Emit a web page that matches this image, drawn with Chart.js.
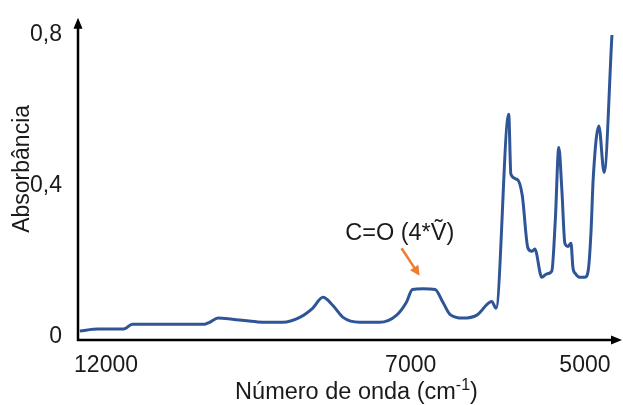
<!DOCTYPE html>
<html>
<head>
<meta charset="utf-8">
<script src="https://cdn.jsdelivr.net/npm/chart.js@4.4.1/dist/chart.umd.min.js"></script>
<style>
  html, body { margin: 0; padding: 0; background: #fff; }
  #wrap { width: 623px; height: 405px; }
</style>
</head>
<body>
<div id="wrap"><canvas id="spectrum"></canvas></div>
<script>
// NIR spectrum (wavenumber in cm-1, absorbance)
const wavenumbers = [12430, 12130, 11740, 11680, 11570, 11150, 10380, 10300, 10160, 9930,
  9510, 9100, 8820, 8610, 8440, 8280, 8110, 7840, 7510, 7230,
  7070, 6980, 6860, 6720, 6630, 6550, 6400, 6240, 6070, 6020,
  5875, 5850, 5780, 5720, 5655, 5610, 5575, 5495, 5440, 5380,
  5340, 5300, 5265, 5230, 5195, 5160, 5138, 5110, 5060, 5000,
  4960, 4930, 4905, 4840, 4780, 4690];
const absorbance = [0.016, 0.021, 0.021, 0.023, 0.034, 0.034, 0.034, 0.039, 0.050, 0.047,
  0.040, 0.039, 0.052, 0.076, 0.105, 0.084, 0.052, 0.039, 0.039, 0.058,
  0.092, 0.126, 0.128, 0.126, 0.092, 0.060, 0.050, 0.058, 0.094, 0.076,
  0.590, 0.431, 0.418, 0.376, 0.236, 0.227, 0.233, 0.158, 0.167, 0.175,
  0.31, 0.502, 0.39, 0.248, 0.240, 0.248, 0.184, 0.168, 0.158, 0.158,
  0.18, 0.28, 0.42, 0.559, 0.436, 0.800];
const xTicks = [12000, 7000, 5000];
const yTicks = [0, 0.4, 0.8];

const xTitle = ["Número de onda (cm", "-1", ")"]; // middle part is a superscript
const yTitle = "Absorbância";

// annotation for the C=O overtone band
const peakLabel = "C=O (4*Ṽ)";
const labelAt = [7180, 0.275];
const arrowTail = [7150, 0.235];
const arrowTip = [6897, 0.162];

const FONT = "'Liberation Sans', Arial, sans-serif";
const TEXT = "#1a1a1a";

// the original axis is not evenly spaced: 7000-5000 is stretched vs 12000-7000
const BREAK = 7000;
const STRETCH = 1.43;
const warp = v => v >= BREAK ? v : BREAK - STRETCH * (BREAK - v);
const unwarp = u => u >= BREAK ? u : BREAK - (BREAK - u) / STRETCH;

class WaveScale extends Chart.LinearScale {
  getPixelForValue(value) {
    const u0 = warp(this.max), u1 = warp(this.min);
    return this.left + (u0 - warp(value)) / (u0 - u1) * this.width;
  }
  getValueForPixel(pixel) {
    const u0 = warp(this.max), u1 = warp(this.min);
    return unwarp(u0 - (pixel - this.left) / this.width * (u0 - u1));
  }
}
WaveScale.id = "wave";
WaveScale.defaults = Chart.LinearScale.defaults;
Chart.register(WaveScale);

const axisArrows = {
  id: "axisArrows",
  afterDraw(chart) {
    const { ctx, chartArea: a } = chart;
    ctx.save();
    ctx.strokeStyle = "#000";
    ctx.fillStyle = "#000";
    ctx.lineWidth = 2.5;
    ctx.beginPath();
    ctx.moveTo(a.left, a.top + 2);
    ctx.lineTo(a.left, a.bottom);
    ctx.lineTo(a.right, a.bottom);
    ctx.stroke();
    // heads
    ctx.beginPath();
    ctx.moveTo(a.left, a.top - 4);
    ctx.lineTo(a.left - 4.5, a.top + 7);
    ctx.lineTo(a.left + 4.5, a.top + 7);
    ctx.closePath();
    ctx.fill();
    ctx.beginPath();
    ctx.moveTo(a.right + 7, a.bottom);
    ctx.lineTo(a.right - 4, a.bottom - 4.5);
    ctx.lineTo(a.right - 4, a.bottom + 4.5);
    ctx.closePath();
    ctx.fill();
    ctx.restore();
  }
};

// axis titles drawn by hand so the cm-1 exponent can be a real superscript
const axisTitles = {
  id: "axisTitles",
  afterDraw(chart) {
    const { ctx, chartArea: a } = chart;
    ctx.save();
    ctx.fillStyle = TEXT;
    ctx.textBaseline = "middle";
    const big = "23.5px " + FONT, small = "16px " + FONT;
    ctx.font = big;
    const w0 = ctx.measureText(xTitle[0]).width, w2 = ctx.measureText(xTitle[2]).width;
    ctx.font = small;
    const w1 = ctx.measureText(xTitle[1]).width;
    let x = (a.left + a.right) / 2 + 10 - (w0 + w1 + w2) / 2;
    const y = chart.height - 12;
    ctx.textAlign = "left";
    ctx.font = big;
    ctx.fillText(xTitle[0], x, y);
    x += w0;
    ctx.font = small;
    ctx.fillText(xTitle[1], x, y - 7);
    x += w1;
    ctx.font = big;
    ctx.fillText(xTitle[2], x, y);

    ctx.translate(23, (a.top + a.bottom) / 2 - 12);
    ctx.rotate(-Math.PI / 2);
    ctx.textAlign = "center";
    ctx.font = "23px " + FONT;
    ctx.fillText(yTitle, 0, 0);
    ctx.restore();
  }
};

const peakNote = {
  id: "peakNote",
  afterDatasetsDraw(chart) {
    const { ctx, scales: { x, y } } = chart;
    const sx = x.getPixelForValue(arrowTail[0]), sy = y.getPixelForValue(arrowTail[1]);
    const tx = x.getPixelForValue(arrowTip[0]), ty = y.getPixelForValue(arrowTip[1]);
    const ang = Math.atan2(ty - sy, tx - sx);
    const head = 10;
    ctx.save();
    ctx.strokeStyle = "#ED7D31";
    ctx.fillStyle = "#ED7D31";
    ctx.lineWidth = 2.5;
    ctx.beginPath();
    ctx.moveTo(sx, sy);
    ctx.lineTo(tx - Math.cos(ang) * head * 0.8, ty - Math.sin(ang) * head * 0.8);
    ctx.stroke();
    ctx.beginPath();
    ctx.moveTo(tx, ty);
    ctx.lineTo(tx - head * Math.cos(ang) + 5 * Math.sin(ang), ty - head * Math.sin(ang) - 5 * Math.cos(ang));
    ctx.lineTo(tx - head * Math.cos(ang) - 5 * Math.sin(ang), ty - head * Math.sin(ang) + 5 * Math.cos(ang));
    ctx.closePath();
    ctx.fill();
    ctx.fillStyle = TEXT;
    ctx.font = "23.5px " + FONT;
    ctx.textAlign = "center";
    ctx.textBaseline = "middle";
    ctx.fillText(peakLabel, x.getPixelForValue(labelAt[0]), y.getPixelForValue(labelAt[1]));
    ctx.restore();
  }
};

new Chart(document.getElementById("spectrum"), {
  type: "line",
  data: {
    datasets: [{
      data: wavenumbers.map((w, i) => ({ x: w, y: absorbance[i] })),
      borderColor: "#2F5597",
      borderWidth: 3,
      pointRadius: 0,
      cubicInterpolationMode: "monotone",
      fill: false
    }]
  },
  options: {
    responsive: true,
    maintainAspectRatio: false,
    animation: false,
    layout: { padding: { left: 0, top: 16, right: 8, bottom: 0 } },
    plugins: { legend: { display: false }, tooltip: { enabled: false } },
    scales: {
      x: {
        type: "wave",
        min: 4655,
        max: 12460,
        grid: { display: false },
        border: { display: false },
        afterBuildTicks: s => { s.ticks = xTicks.map(v => ({ value: v })); },
        afterFit: s => { s.height = 65; },
        ticks: {
          padding: 4,
          maxRotation: 0,
          autoSkip: false,
          color: TEXT,
          font: { family: FONT, size: 23 },
          callback: v => String(v)
        },
        title: { display: false }
      },
      y: {
        min: -0.008,
        max: 0.835,
        grid: { display: false },
        border: { display: false },
        afterBuildTicks: s => { s.ticks = yTicks.map(v => ({ value: v })); },
        afterFit: s => { s.width = 78; },
        ticks: {
          padding: 8,
          color: TEXT,
          font: { family: FONT, size: 23 },
          callback: v => v === 0 ? "0" : v.toFixed(1).replace(".", ",")
        },
        title: { display: false }
      }
    }
  },
  plugins: [axisArrows, axisTitles, peakNote]
});
</script>
</body>
</html>
